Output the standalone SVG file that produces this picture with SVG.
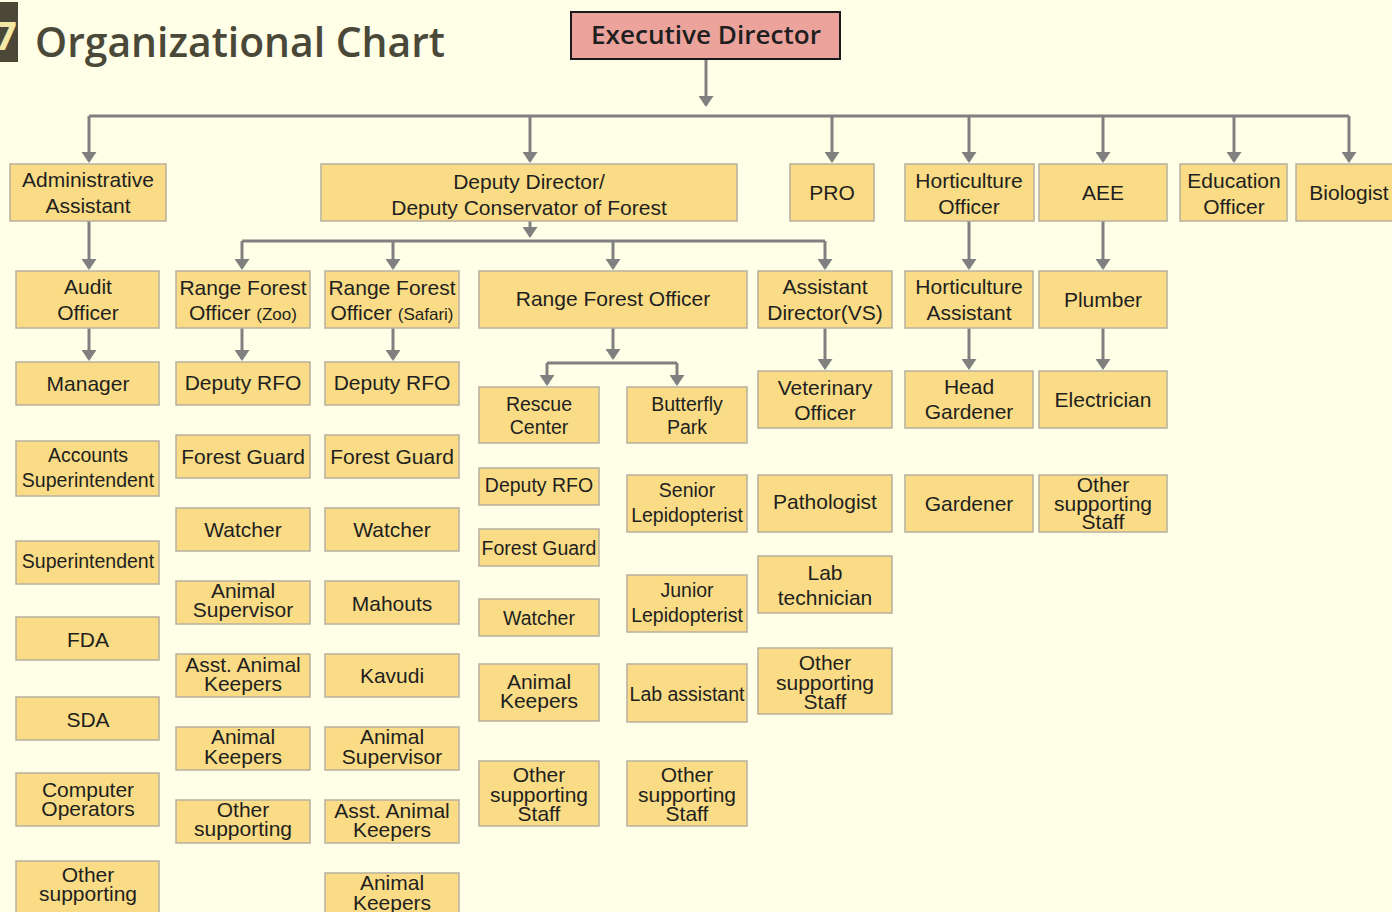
<svg xmlns="http://www.w3.org/2000/svg" width="1392" height="912" viewBox="0 0 1392 912">
<defs>
<style>
.bg{fill:#FFFEE6}
.box{fill:#F9DC85;stroke:#B6B0A0;stroke-width:1.5}
.t{font-family:"Liberation Sans",Arial,sans-serif;font-size:21px;fill:#1f1f1f;text-anchor:middle}
.s{font-size:19.5px}
.sm{font-size:17px}
.c{stroke:#808080;stroke-width:3;fill:none}
.a{stroke:#808080;stroke-width:3;fill:none;marker-end:url(#ah)}
</style>
<marker id="ah" markerUnits="userSpaceOnUse" viewBox="0 0 11 15" refX="9" refY="7.5" markerWidth="11" markerHeight="15" orient="auto">
<path d="M0,0 L11,7.5 L0,15 z" fill="#808080"/>
</marker>
</defs>
<rect class="bg" x="0" y="0" width="1392" height="912"/>
<g id="title">
<rect x="0" y="2" width="18" height="60" fill="#4B4838"/>
<text x="-6" y="50" font-family="Open Sans, sans-serif" font-weight="700" font-size="40" fill="#F3E7A5">7</text>
<text x="35" y="57" font-family="Open Sans, sans-serif" font-weight="600" font-size="41" fill="#4A4838" textLength="410" lengthAdjust="spacingAndGlyphs">Organizational Chart</text>
</g>
<g id="connectors">
<line class="a" x1="706" y1="59" x2="706" y2="105"/>
<line class="c" x1="89" y1="116" x2="1349" y2="116" stroke-width="4"/>
<line class="a" x1="89" y1="116" x2="89" y2="161"/>
<line class="a" x1="530" y1="116" x2="530" y2="161"/>
<line class="a" x1="832" y1="116" x2="832" y2="161"/>
<line class="a" x1="969" y1="116" x2="969" y2="161"/>
<line class="a" x1="1103" y1="116" x2="1103" y2="161"/>
<line class="a" x1="1234" y1="116" x2="1234" y2="161"/>
<line class="a" x1="1349" y1="116" x2="1349" y2="161"/>
<line class="a" x1="89" y1="221" x2="89" y2="268"/>
<line class="a" x1="530" y1="221" x2="530" y2="236"/>
<line class="c" x1="242" y1="241" x2="825" y2="241"/>
<line class="a" x1="242" y1="241" x2="242" y2="268"/>
<line class="a" x1="393" y1="241" x2="393" y2="268"/>
<line class="a" x1="613" y1="241" x2="613" y2="268"/>
<line class="a" x1="825" y1="241" x2="825" y2="268"/>
<line class="a" x1="969" y1="221" x2="969" y2="268"/>
<line class="a" x1="1103" y1="221" x2="1103" y2="268"/>
<line class="a" x1="89" y1="328" x2="89" y2="359"/>
<line class="a" x1="242" y1="328" x2="242" y2="359"/>
<line class="a" x1="393" y1="328" x2="393" y2="359"/>
<line class="a" x1="613" y1="328" x2="613" y2="358"/>
<line class="c" x1="547" y1="363" x2="677" y2="363"/>
<line class="a" x1="547" y1="363" x2="547" y2="384"/>
<line class="a" x1="677" y1="363" x2="677" y2="384"/>
<line class="a" x1="825" y1="328" x2="825" y2="368"/>
<line class="a" x1="969" y1="328" x2="969" y2="368"/>
<line class="a" x1="1103" y1="328" x2="1103" y2="368"/>
</g>
<g id="executive-director">
<rect x="571" y="12" width="269" height="47" fill="#EBA39C" stroke="#1a1a1a" stroke-width="2"/>
<text x="706" y="44" font-family="Open Sans, sans-serif" font-weight="600" font-size="25" fill="#1f1f1f" text-anchor="middle" textLength="230" lengthAdjust="spacingAndGlyphs">Executive Director</text>
</g>
<g id="administrative-assistant"><rect class="box" x="10" y="164" width="156" height="57"/><text class="t" x="88" y="187">Administrative</text><text class="t" x="88" y="213">Assistant</text></g>
<g id="deputy-director"><rect class="box" x="321" y="164" width="416" height="57"/><text class="t" x="529" y="189">Deputy Director/</text><text class="t" x="529" y="215">Deputy Conservator of Forest</text></g>
<g id="pro"><rect class="box" x="790" y="164" width="84" height="57"/><text class="t" x="832" y="200">PRO</text></g>
<g id="horticulture-officer"><rect class="box" x="905" y="164" width="129" height="57"/><text class="t" x="969" y="188">Horticulture</text><text class="t" x="969" y="214">Officer</text></g>
<g id="aee"><rect class="box" x="1039" y="164" width="128" height="57"/><text class="t" x="1103" y="200">AEE</text></g>
<g id="education-officer"><rect class="box" x="1180" y="164" width="107" height="57"/><text class="t" x="1234" y="188">Education</text><text class="t" x="1234" y="214">Officer</text></g>
<g id="biologist"><rect class="box" x="1296" y="164" width="106" height="57"/><text class="t" x="1349" y="200">Biologist</text></g>

<g id="audit-officer"><rect class="box" x="16" y="271" width="143" height="57"/><text class="t" x="88" y="294">Audit</text><text class="t" x="88" y="320">Officer</text></g>
<g id="rfo-zoo"><rect class="box" x="176" y="271" width="134" height="57"/><text class="t" x="243" y="295">Range Forest</text><text class="t" x="243" y="320">Officer <tspan class="sm">(Zoo)</tspan></text></g>
<g id="rfo-safari"><rect class="box" x="325" y="271" width="134" height="57"/><text class="t" x="392" y="295">Range Forest</text><text class="t" x="392" y="320">Officer <tspan class="sm">(Safari)</tspan></text></g>
<g id="range-forest-officer"><rect class="box" x="479" y="271" width="268" height="57"/><text class="t" x="613" y="306">Range Forest Officer</text></g>
<g id="assistant-director-vs"><rect class="box" x="758" y="271" width="134" height="57"/><text class="t" x="825" y="294">Assistant</text><text class="t" x="825" y="320">Director(VS)</text></g>
<g id="horticulture-assistant"><rect class="box" x="905" y="271" width="128" height="57"/><text class="t" x="969" y="294">Horticulture</text><text class="t" x="969" y="320">Assistant</text></g>
<g id="plumber"><rect class="box" x="1039" y="271" width="128" height="57"/><text class="t" x="1103" y="307">Plumber</text></g>

<g id="manager"><rect class="box" x="16" y="362" width="143" height="43"/><text class="t" x="88" y="391">Manager</text></g>
<g id="deputy-rfo-zoo"><rect class="box" x="176" y="362" width="134" height="43"/><text class="t" x="243" y="390">Deputy RFO</text></g>
<g id="deputy-rfo-safari"><rect class="box" x="325" y="362" width="134" height="43"/><text class="t" x="392" y="390">Deputy RFO</text></g>
<g id="rescue-center"><rect class="box" x="479" y="387" width="120" height="56"/><text class="t s" x="539" y="411">Rescue</text><text class="t s" x="539" y="434">Center</text></g>
<g id="butterfly-park"><rect class="box" x="627" y="387" width="120" height="56"/><text class="t s" x="687" y="411">Butterfly</text><text class="t s" x="687" y="434">Park</text></g>
<g id="veterinary-officer"><rect class="box" x="758" y="371" width="134" height="57"/><text class="t" x="825" y="395">Veterinary</text><text class="t" x="825" y="420">Officer</text></g>
<g id="head-gardener"><rect class="box" x="905" y="371" width="128" height="57"/><text class="t" x="969" y="394">Head</text><text class="t" x="969" y="419">Gardener</text></g>
<g id="electrician"><rect class="box" x="1039" y="371" width="128" height="57"/><text class="t" x="1103" y="407">Electrician</text></g>

<g id="accounts-superintendent"><rect class="box" x="16" y="441" width="143" height="55"/><text class="t s" x="88" y="462">Accounts</text><text class="t s" x="88" y="487">Superintendent</text></g>
<g id="superintendent"><rect class="box" x="16" y="541" width="143" height="43"/><text class="t s" x="88" y="568">Superintendent</text></g>
<g id="fda"><rect class="box" x="16" y="617" width="143" height="43"/><text class="t" x="88" y="647">FDA</text></g>
<g id="sda"><rect class="box" x="16" y="697" width="143" height="43"/><text class="t" x="88" y="727">SDA</text></g>
<g id="computer-operators"><rect class="box" x="16" y="773" width="143" height="53"/><text class="t" x="88" y="797">Computer</text><text class="t" x="88" y="816">Operators</text></g>
<g id="other-supporting-admin"><rect class="box" x="16" y="861" width="143" height="60"/><text class="t" x="88" y="882">Other</text><text class="t" x="88" y="901">supporting</text></g>

<g id="forest-guard-zoo"><rect class="box" x="176" y="435" width="134" height="43"/><text class="t" x="243" y="464">Forest Guard</text></g>
<g id="watcher-zoo"><rect class="box" x="176" y="508" width="134" height="43"/><text class="t" x="243" y="537">Watcher</text></g>
<g id="animal-supervisor-zoo"><rect class="box" x="176" y="581" width="134" height="43"/><text class="t" x="243" y="598">Animal</text><text class="t" x="243" y="617">Supervisor</text></g>
<g id="asst-animal-keepers-zoo"><rect class="box" x="176" y="654" width="134" height="43"/><text class="t" x="243" y="672">Asst. Animal</text><text class="t" x="243" y="691">Keepers</text></g>
<g id="animal-keepers-zoo"><rect class="box" x="176" y="727" width="134" height="43"/><text class="t" x="243" y="744">Animal</text><text class="t" x="243" y="764">Keepers</text></g>
<g id="other-supporting-zoo"><rect class="box" x="176" y="800" width="134" height="43"/><text class="t" x="243" y="817">Other</text><text class="t" x="243" y="836">supporting</text></g>

<g id="forest-guard-safari"><rect class="box" x="325" y="435" width="134" height="43"/><text class="t" x="392" y="464">Forest Guard</text></g>
<g id="watcher-safari"><rect class="box" x="325" y="508" width="134" height="43"/><text class="t" x="392" y="537">Watcher</text></g>
<g id="mahouts"><rect class="box" x="325" y="581" width="134" height="43"/><text class="t" x="392" y="611">Mahouts</text></g>
<g id="kavudi"><rect class="box" x="325" y="654" width="134" height="43"/><text class="t" x="392" y="683">Kavudi</text></g>
<g id="animal-supervisor-safari"><rect class="box" x="325" y="727" width="134" height="43"/><text class="t" x="392" y="744">Animal</text><text class="t" x="392" y="764">Supervisor</text></g>
<g id="asst-animal-keepers-safari"><rect class="box" x="325" y="800" width="134" height="43"/><text class="t" x="392" y="818">Asst. Animal</text><text class="t" x="392" y="837">Keepers</text></g>
<g id="animal-keepers-safari"><rect class="box" x="325" y="873" width="134" height="50"/><text class="t" x="392" y="890">Animal</text><text class="t" x="392" y="910">Keepers</text></g>

<g id="deputy-rfo-rescue"><rect class="box" x="479" y="468" width="120" height="37"/><text class="t s" x="539" y="492">Deputy RFO</text></g>
<g id="forest-guard-rescue"><rect class="box" x="479" y="529" width="120" height="37"/><text class="t s" x="539" y="555">Forest Guard</text></g>
<g id="watcher-rescue"><rect class="box" x="479" y="599" width="120" height="37"/><text class="t s" x="539" y="625">Watcher</text></g>
<g id="animal-keepers-rescue"><rect class="box" x="479" y="664" width="120" height="57"/><text class="t" x="539" y="689">Animal</text><text class="t" x="539" y="708">Keepers</text></g>
<g id="other-supporting-rescue"><rect class="box" x="479" y="761" width="120" height="65"/><text class="t" x="539" y="782">Other</text><text class="t" x="539" y="802">supporting</text><text class="t" x="539" y="821">Staff</text></g>

<g id="senior-lepidopterist"><rect class="box" x="627" y="475" width="120" height="57"/><text class="t s" x="687" y="497">Senior</text><text class="t s" x="687" y="522">Lepidopterist</text></g>
<g id="junior-lepidopterist"><rect class="box" x="627" y="575" width="120" height="57"/><text class="t s" x="687" y="597">Junior</text><text class="t s" x="687" y="622">Lepidopterist</text></g>
<g id="lab-assistant"><rect class="box" x="627" y="664" width="120" height="58"/><text class="t s" x="687" y="701">Lab assistant</text></g>
<g id="other-supporting-butterfly"><rect class="box" x="627" y="761" width="120" height="65"/><text class="t" x="687" y="782">Other</text><text class="t" x="687" y="802">supporting</text><text class="t" x="687" y="821">Staff</text></g>

<g id="pathologist"><rect class="box" x="758" y="475" width="134" height="57"/><text class="t" x="825" y="509">Pathologist</text></g>
<g id="lab-technician"><rect class="box" x="758" y="556" width="134" height="57"/><text class="t" x="825" y="580">Lab</text><text class="t" x="825" y="605">technician</text></g>
<g id="other-supporting-vet"><rect class="box" x="758" y="648" width="134" height="66"/><text class="t" x="825" y="670">Other</text><text class="t" x="825" y="690">supporting</text><text class="t" x="825" y="709">Staff</text></g>

<g id="gardener"><rect class="box" x="905" y="475" width="128" height="57"/><text class="t" x="969" y="511">Gardener</text></g>
<g id="other-supporting-aee"><rect class="box" x="1039" y="475" width="128" height="57"/><text class="t" x="1103" y="492">Other</text><text class="t" x="1103" y="511">supporting</text><text class="t" x="1103" y="529">Staff</text></g>
</svg>
